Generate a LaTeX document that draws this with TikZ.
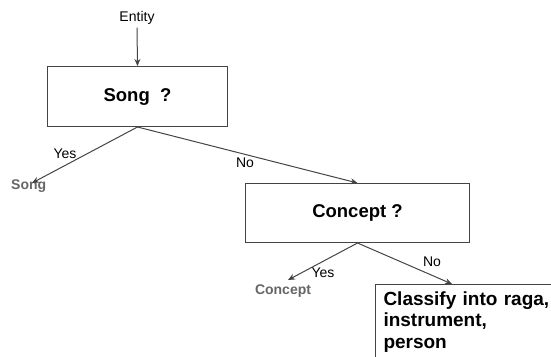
\documentclass[tikz,border=0pt]{standalone}
\usepackage{fontspec}
\setmainfont{Liberation Sans}
\usetikzlibrary{arrows.meta}
\definecolor{ln}{HTML}{444444}
\definecolor{gr}{HTML}{666666}
\tikzset{
  qbox/.style={draw=ln, line width=1pt, font=\bfseries\fontsize{18.5}{21}\selectfont, anchor=north west, inner sep=0pt},
  conn/.style={draw=ln, line width=1pt, -{Stealth[length=7pt,width=6pt]}},
  lbl/.style={font=\fontsize{14}{16}\selectfont, inner sep=0pt},
  res/.style={font=\bfseries\fontsize{14}{16}\selectfont, text=gr, inner sep=0pt}
}
\begin{document}
\begin{tikzpicture}[x=1pt,y=-1pt]
\useasboundingbox (0,0) rectangle (551,356);
\clip (0,0) rectangle (551,356);
\node[lbl] (entity) at (137,18) {Entity};
\node[qbox, minimum width=180pt, minimum height=60pt] (song) at (47,66) {Song\ \ ?};
\node[qbox, minimum width=224pt, minimum height=59pt] (concept) at (245,183) {Concept ?};
\node[res, anchor=west] (songres) at (11,186) {Song};
\node[res] (conceptres) at (283,291) {Concept};
\node[draw=ln, line width=1pt, anchor=north west, inner xsep=8pt, inner ysep=7pt, text width=200pt, align=left, font=\bfseries\fontsize{19}{21.5}\selectfont] (classify) at (375,284) {Classify into raga,\\instrument,\\person\rule[-30pt]{0pt}{30pt}};
\coordinate (t1) at (32,183);
\coordinate (t2) at (288,280);
\coordinate (t3) at (452,284);
\draw[conn] (entity.south) ++(0,3) coordinate (e0) -- (song.north);
\draw[conn] (song.south) -- (t1);
\draw[conn] (song.south) -- (concept.north);
\draw[conn] (concept.south) -- (t2);
\draw[conn] (concept.south) -- (t3);
\node[lbl] (yes1) at (65,154) {Yes};
\node[lbl] (no1) at (245,163) {No};
\node[lbl] (yes2) at (323,273) {Yes};
\node[lbl] (no2) at (432,262) {No};
\end{tikzpicture}
\end{document}
